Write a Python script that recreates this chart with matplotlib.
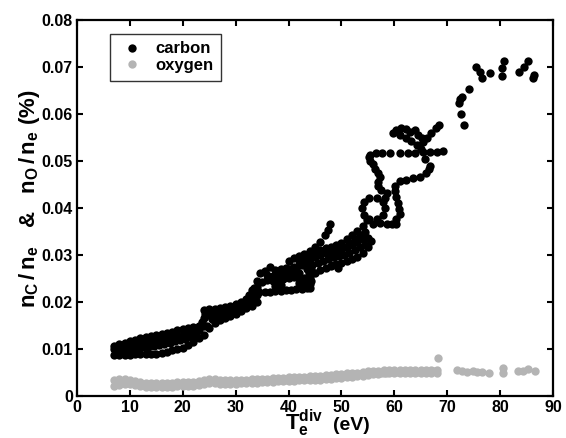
import matplotlib
matplotlib.use("Agg")
import matplotlib.pyplot as plt
import numpy as np

# carbon: n_C / n_e (%) against divertor electron temperature (eV)
carbon_low = [
    (7, 0.0087), (8, 0.0087), (9, 0.0088), (10, 0.0088), (11, 0.0089), (12, 0.0089), (13, 0.0089),
    (14, 0.0090), (15, 0.0090), (16, 0.0092), (17, 0.0094), (18, 0.0097), (19, 0.0100), (20, 0.0103),
    (21, 0.0108), (22, 0.0115), (23, 0.0124),
    (7.5, 0.0094), (8.5, 0.0096), (9.5, 0.0098), (10.5, 0.0100), (11.5, 0.0102), (12.5, 0.0104),
    (13.5, 0.0105), (14.5, 0.0106), (15.5, 0.0108), (16.5, 0.0110), (17.5, 0.0113), (18.5, 0.0116),
    (19.5, 0.0119), (20.5, 0.0122), (21.5, 0.0125), (22.5, 0.0130),
    (7, 0.0100), (8, 0.0102), (9, 0.0105), (10, 0.0107), (11, 0.0110), (12, 0.0112), (13, 0.0114),
    (14, 0.0115), (15, 0.0117), (16, 0.0119), (17, 0.0121), (18, 0.0124), (19, 0.0127), (20, 0.0129),
    (21, 0.0132), (22, 0.0136), (23, 0.0140),
    (7, 0.0106), (8, 0.0110), (9, 0.0113), (10, 0.0117), (11, 0.0120), (12, 0.0123), (13, 0.0126),
    (14, 0.0128), (15, 0.0130), (16, 0.0132), (17, 0.0135), (18, 0.0137), (19, 0.0140), (20, 0.0142),
    (21, 0.0144), (22, 0.0146), (23, 0.0148),
]
carbon_step = [
    (24, 0.0130), (25, 0.0145), (26, 0.0155), (27, 0.0162), (28, 0.0167), (29, 0.0171),
    (30, 0.0175), (31, 0.0180), (32, 0.0187), (33, 0.0192), (34, 0.0200),
    (24.5, 0.0150), (25.5, 0.0163), (26.5, 0.0170), (27.5, 0.0173), (28.5, 0.0177), (29.5, 0.0180),
    (30.5, 0.0184), (31.5, 0.0190), (32.5, 0.0196), (33.5, 0.0203),
    (24, 0.0165), (25, 0.0172), (26, 0.0176), (27, 0.0180), (28, 0.0182), (29, 0.0185),
    (30, 0.0188), (31, 0.0193), (32, 0.0199), (33, 0.0205),
    (24, 0.0182), (25, 0.0185), (26, 0.0186), (27, 0.0187), (28, 0.0189), (29, 0.0191),
    (30, 0.0195), (31, 0.0201), (32, 0.0207), (33, 0.0213), (34, 0.0220),
    (24.0, 0.0148), (23.6, 0.0158), (24.2, 0.0174), (24.5, 0.0180),
]
carbon_tangle = [
    (33.5, 0.0219), (34.5, 0.0221), (35.5, 0.0222), (36.5, 0.0222), (37.5, 0.0223), (38.5, 0.0224),
    (39.5, 0.0225), (40.5, 0.0226), (41.5, 0.0227), (42.5, 0.0228), (43.5, 0.0230), (44.0, 0.0238),
    (34.0, 0.0232), (35.0, 0.0243), (36.0, 0.0247), (37.0, 0.0245), (38.0, 0.0243), (39.0, 0.0250),
    (40.0, 0.0252), (41.0, 0.0254), (42.0, 0.0253), (43.0, 0.0252), (44.0, 0.0250), (44.3, 0.0244),
    (34.6, 0.0261), (35.5, 0.0265), (36.5, 0.0275), (37.5, 0.0268), (38.5, 0.0270), (39.5, 0.0272),
    (40.5, 0.0270), (41.5, 0.0268), (42.5, 0.0278), (43.5, 0.0278), (44.3, 0.0270),
    (42.0, 0.0262), (43.8, 0.0262), (32.5, 0.0215), (33.5, 0.0230), (34.0, 0.0245),
    (33.0, 0.0225), (34.0, 0.0215), (37.5, 0.0234), (38.5, 0.0236), (42.0, 0.0240), (43.0, 0.0240),
    (44.0, 0.0230), (36.0, 0.0258), (37.0, 0.0256), (38.0, 0.0258), (39.0, 0.0262), (40.0, 0.0262),
    (41.0, 0.0262),
]
carbon_band = [
    (40.0, 0.0288), (41.0, 0.0293), (42.0, 0.0298), (43.0, 0.0303), (44.0, 0.0308), (45.0, 0.0316),
    (46.0, 0.0328), (46.8, 0.0342), (47.4, 0.0354), (47.9, 0.0365),
    (40, 0.0270), (41, 0.0275), (42, 0.0278), (43, 0.0283), (44, 0.0290), (45, 0.0296), (46, 0.0300),
    (47, 0.0304), (48, 0.0307), (49, 0.0309), (50, 0.0310), (51, 0.0316), (52, 0.0322), (53, 0.0328),
    (54, 0.0334), (55, 0.0336),
    (42, 0.0290), (43, 0.0294), (44, 0.0300), (45, 0.0306), (46, 0.0311), (47, 0.0315), (48, 0.0318),
    (49, 0.0321), (50, 0.0325), (51, 0.0333), (52, 0.0342), (53, 0.0352), (54, 0.0362), (54.8, 0.0375),
    (43, 0.0250), (44, 0.0255), (45, 0.0262), (46, 0.0268), (47, 0.0273), (48, 0.0277), (49, 0.0280),
    (50, 0.0283), (51, 0.0287), (52, 0.0291), (53, 0.0296), (54, 0.0305), (55, 0.0318), (55.6, 0.0330),
    (48.2, 0.0278), (49.4, 0.0272),
    (43.5, 0.0270), (44.5, 0.0278), (45.5, 0.0284), (46.5, 0.0288), (47.5, 0.0292), (48.5, 0.0296),
    (49.5, 0.0298), (50.5, 0.0300), (51.5, 0.0304), (52.5, 0.0310), (53.5, 0.0316), (54.5, 0.0322),
    (50.5, 0.0318), (51.5, 0.0326), (52.5, 0.0334), (53.5, 0.0342), (54.5, 0.0350),
]
carbon_loop = [
    (58.2, 0.0399), (57.8, 0.0413), (56.7, 0.0422), (55.3, 0.0422), (54.2, 0.0413),
    (53.8, 0.0399), (54.2, 0.0385), (55.3, 0.0376), (56.7, 0.0376), (57.8, 0.0385),
    (58.6, 0.0367), (59.5, 0.0365), (60.4, 0.0366), (56.0, 0.0366), (57.2, 0.0368),
    (60.4, 0.0376), (61.0, 0.0387), (60.9, 0.0398), (60.6, 0.0410), (60.4, 0.0424), (60.2, 0.0436),
    (60.1, 0.0447), (61.1, 0.0457), (62.3, 0.0460), (63.6, 0.0463), (64.9, 0.0467), (66.0, 0.0474),
    (66.6, 0.0483), (66.8, 0.0490),
    (58.2, 0.0422), (58.6, 0.0431), (57.4, 0.0439), (56.9, 0.0447), (57.0, 0.0455), (57.2, 0.0465),
    (56.9, 0.0475), (56.4, 0.0484), (55.9, 0.0493), (55.4, 0.0501), (55.2, 0.0509),
]
carbon_top = [
    (55.4, 0.0512), (56.5, 0.0516), (57.6, 0.0516), (59.2, 0.0518), (61.1, 0.0518), (62.6, 0.0518),
    (64.0, 0.0518), (65.4, 0.0519), (66.8, 0.0519), (68.0, 0.0519), (69.2, 0.0521), (65.8, 0.0504),
    (59.8, 0.0560), (60.4, 0.0566), (61.3, 0.0570), (62.2, 0.0568), (63.0, 0.0562), (63.9, 0.0566),
    (61.1, 0.0555), (62.2, 0.0549), (63.2, 0.0542), (64.2, 0.0534), (65.0, 0.0526), (65.5, 0.0540),
    (66.2, 0.0550), (67.0, 0.0560), (67.8, 0.0570), (68.5, 0.0576), (64.5, 0.0556), (65.2, 0.0548),
]
carbon_high = [
    (72.2, 0.0624), (72.4, 0.0631), (72.6, 0.0600), (73.2, 0.0577), (72.8, 0.0637), (74.2, 0.0653),
    (75.4, 0.0701), (76.2, 0.0689), (76.6, 0.0677), (78.0, 0.0687), (80.8, 0.0713), (80.4, 0.0697),
    (80.4, 0.0681), (83.6, 0.0689), (84.6, 0.0699), (85.3, 0.0713), (86.4, 0.0683), (86.2, 0.0676),
]

# oxygen: n_O / n_e (%), upper and lower edge of the band at whole eV, middle at half eV
oxygen_T = np.arange(7, 69)
oxygen_upper = [
    0.0034, 0.0036, 0.0036, 0.0033, 0.0031, 0.0029, 0.0028, 0.0027, 0.0027, 0.0027, 0.0028, 0.0028,
    0.0029, 0.0029, 0.0030, 0.0030, 0.0031, 0.0033, 0.0036, 0.0036, 0.0034, 0.0033, 0.0034, 0.0034,
    0.0035, 0.0035, 0.0036, 0.0036, 0.0037, 0.0037, 0.0038, 0.0039, 0.0039, 0.0040, 0.0040, 0.0041,
    0.0041, 0.0042, 0.0042, 0.0043, 0.0044, 0.0045, 0.0046, 0.0047, 0.0048, 0.0049, 0.0050, 0.0051,
    0.0053, 0.0054, 0.0054, 0.0055, 0.0055, 0.0055, 0.0055, 0.0055, 0.0055, 0.0056, 0.0056, 0.0056,
    0.0056, 0.0056,
]
oxygen_lower = [
    0.0022, 0.0023, 0.0026, 0.0025, 0.0023, 0.0021, 0.0020, 0.0019, 0.0019, 0.0019, 0.0020, 0.0020,
    0.0021, 0.0021, 0.0022, 0.0022, 0.0023, 0.0025, 0.0028, 0.0028, 0.0026, 0.0025, 0.0026, 0.0026,
    0.0027, 0.0027, 0.0028, 0.0028, 0.0029, 0.0029, 0.0030, 0.0031, 0.0031, 0.0032, 0.0032, 0.0033,
    0.0033, 0.0034, 0.0034, 0.0035, 0.0036, 0.0037, 0.0038, 0.0039, 0.0040, 0.0041, 0.0042, 0.0043,
    0.0045, 0.0046, 0.0047, 0.0048, 0.0048, 0.0048, 0.0049, 0.0049, 0.0049, 0.0050, 0.0050, 0.0050,
    0.0050, 0.0050,
]
oxygen_T_half = np.arange(7.5, 68, 1.0)
oxygen_middle = [
    0.0031, 0.0032, 0.0030, 0.0028, 0.0026, 0.0024, 0.0023, 0.0023, 0.0023, 0.0023, 0.0024, 0.0024,
    0.0025, 0.0025, 0.0026, 0.0026, 0.0028, 0.0030, 0.0032, 0.0031, 0.0030, 0.0029, 0.0030, 0.0030,
    0.0031, 0.0031, 0.0032, 0.0032, 0.0033, 0.0033, 0.0034, 0.0035, 0.0035, 0.0036, 0.0036, 0.0037,
    0.0037, 0.0038, 0.0038, 0.0039, 0.0040, 0.0040, 0.0041, 0.0042, 0.0044, 0.0045, 0.0046, 0.0047,
    0.0048, 0.0050, 0.0050, 0.0050, 0.0051, 0.0051, 0.0052, 0.0052, 0.0052, 0.0052, 0.0053, 0.0053,
    0.0053,
]
oxygen_sparse = [
    (68.3, 0.0080), (71.8, 0.0055), (72.7, 0.0054), (73.7, 0.0052), (74.9, 0.0053), (75.6, 0.0052),
    (76.5, 0.0052), (77.9, 0.0050), (80.6, 0.0059), (80.6, 0.0050), (83.4, 0.0053), (84.4, 0.0054),
    (85.3, 0.0058), (86.6, 0.0053),
]

x_ticks = [0, 10, 20, 30, 40, 50, 60, 70, 80, 90]
y_ticks = [0, 0.01, 0.02, 0.03, 0.04, 0.05, 0.06, 0.07, 0.08]
y_tick_labels = ["0", "0.01", "0.02", "0.03", "0.04", "0.05", "0.06", "0.07", "0.08"]

plt.rcParams["font.family"] = ["Liberation Sans", "DejaVu Sans"]
plt.rcParams["font.weight"] = "bold"
plt.rcParams["mathtext.fontset"] = "custom"
plt.rcParams["mathtext.rm"] = "Liberation Sans:bold"
plt.rcParams["mathtext.it"] = "Liberation Sans:bold"
plt.rcParams["mathtext.bf"] = "Liberation Sans:bold"
plt.rcParams["mathtext.default"] = "rm"

carbon = np.array(carbon_low + carbon_step + carbon_tangle + carbon_band
                  + carbon_loop + carbon_top + carbon_high)
sparse = np.array(oxygen_sparse)
oxy_T = np.concatenate([oxygen_T, oxygen_T, oxygen_T_half, sparse[:, 0]])
oxy_n = np.concatenate([oxygen_upper, oxygen_lower, oxygen_middle, sparse[:, 1]])

fig = plt.figure(figsize=(5.66, 4.38), dpi=100)
ax = fig.add_axes([77 / 566, 42 / 438, 476 / 566, 376 / 438])

gray = "#b4b4b4"
ax.plot(oxy_T, oxy_n, "o", color=gray, markersize=6.0, markeredgewidth=0, label="oxygen", zorder=2)
ax.plot(carbon[:, 0], carbon[:, 1], "o", color="black", markersize=6.0, markeredgewidth=0,
        label="carbon", zorder=3)

ax.set_xlim(0, 90)
ax.set_ylim(0, 0.08)
ax.set_xticks(x_ticks)
ax.set_yticks(y_ticks)
ax.set_yticklabels(y_tick_labels)
ax.tick_params(direction="in", length=4, width=1.5, top=True, right=True, labelsize=11.5, pad=3)
for spine in ax.spines.values():
    spine.set_linewidth(1.6)

# axis titles placed by hand like the original export; the T is set larger than "(eV)"
fig.text(285 / 566, 8 / 438, r"$T_e^{div}$", fontsize=16, fontweight="bold",
         ha="left", va="baseline")
fig.text(333 / 566, 8 / 438, "(eV)", fontsize=14, fontweight="bold", ha="left", va="baseline")
fig.text(29 / 566, (438 - 199) / 438, r"$n_C\,/\,n_e$   &   $n_O\,/\,n_e$ (%)", fontsize=16,
         fontweight="bold", rotation=90, ha="center", va="center")

handles, labels = ax.get_legend_handles_labels()
leg = ax.legend(handles[::-1], labels[::-1], loc="upper left", bbox_to_anchor=(0.069, 0.963),
                borderaxespad=0, fontsize=12, frameon=True, fancybox=False, edgecolor="black",
                handletextpad=0.5, borderpad=0.45, labelspacing=0.1, handlelength=1.8)
leg.get_frame().set_linewidth(1.0)

fig.savefig("out.png", dpi=100)
